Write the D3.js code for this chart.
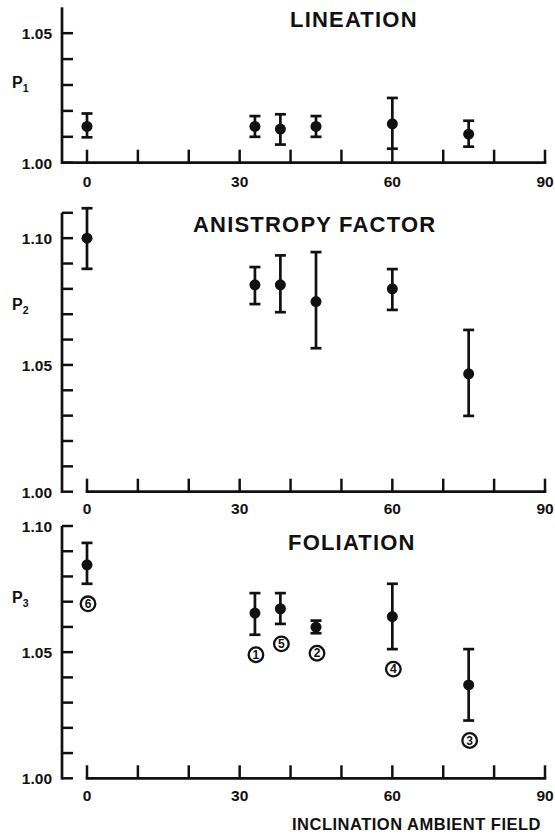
<!DOCTYPE html>
<html><head><meta charset="utf-8">
<script src="https://cdn.jsdelivr.net/npm/d3@7"></script>
<style>
html,body{margin:0;padding:0;background:#fff;}
svg text{font-family:"Liberation Sans",Arial,sans-serif;font-weight:bold;fill:#111;}
</style></head>
<body>
<svg id="c" width="555" height="834"></svg>
<script>
// ---- data ----
const inclination = [0, 33, 38, 45, 60, 75];
const xTickLabels = [0, 30, 60, 90];

const lineationVal = [1.014, 1.014, 1.013, 1.014, 1.015, 1.011];
const lineationHi  = [1.019, 1.018, 1.0187, 1.018, 1.025, 1.0162];
const lineationLo  = [1.0098, 1.010, 1.007, 1.010, 1.0054, 1.0062];

const anisoVal = [1.100, 1.0816, 1.0816, 1.075, 1.080, 1.0465];
const anisoHi  = [1.1118, 1.0886, 1.0932, 1.0945, 1.0878, 1.0638];
const anisoLo  = [1.0879, 1.0740, 1.0708, 1.0566, 1.0717, 1.0299];

const foliationVal = [1.0846, 1.0655, 1.0672, 1.0599, 1.0641, 1.0370];
const foliationHi  = [1.0933, 1.0734, 1.0734, 1.0625, 1.0771, 1.0512];
const foliationLo  = [1.0771, 1.0569, 1.0612, 1.0575, 1.0512, 1.0229];
const sampleIds    = ["6", "1", "5", "2", "4", "3"];

const yLabelsTop = ["1.00", "1.05"];
const yLabelsMid = ["1.00", "1.05", "1.10"];
const yLabelsBot = ["1.00", "1.05", "1.10"];

// ---- drawing ----
const svg = d3.select("#c");
const x = d3.scaleLinear().domain([0, 90]).range([87, 545]);
const AX = 62;
const ink = "#111";

const panels = [
  {title: "LINEATION", titleX: 290, titleY: 27, sub: "1", pY: 88,
   y: d3.scaleLinear().domain([1.00, 1.06]).range([162.7, 7.3]), tickMax: 1.05, axisTop: 1.06,
   labels: yLabelsTop, val: lineationVal, hi: lineationHi, lo: lineationLo, xFull: true, lblDy: 24},
  {title: "ANISTROPY FACTOR", titleX: 193, titleY: 232, sub: "2", pY: 310,
   y: d3.scaleLinear().domain([1.00, 1.11]).range([491.7, 212.8]), tickMax: 1.11, axisTop: 1.11,
   labels: yLabelsMid, val: anisoVal, hi: anisoHi, lo: anisoLo, xFull: false, lblDy: 22},
  {title: "FOLIATION", titleX: 288, titleY: 550, sub: "3", pY: 603,
   y: d3.scaleLinear().domain([1.00, 1.10]).range([778.3, 526]), tickMax: 1.10, axisTop: 1.10,
   labels: yLabelsBot, val: foliationVal, hi: foliationHi, lo: foliationLo, xFull: false, lblDy: 23, ids: sampleIds}
];

panels.forEach(p => {
  const g = svg.append("g");
  const y = p.y;
  g.append("line").attr("x1", AX).attr("x2", AX)
    .attr("y1", y(p.axisTop)).attr("y2", y(1.0) + 1.3)
    .attr("stroke", ink).attr("stroke-width", 2.7);
  const yt = d3.range(0, Math.round((p.tickMax - 1.0) / 0.01) + 1).map(i => 1.0 + i * 0.01);
  g.selectAll(".yt").data(yt).join("line")
    .attr("x1", AX).attr("x2", AX + 11)
    .attr("y1", d => y(d)).attr("y2", d => y(d))
    .attr("stroke", ink).attr("stroke-width", 2.5);
  g.selectAll(".yl").data(p.labels).join("text")
    .attr("x", 52).attr("y", d => y(+d) + 6)
    .attr("text-anchor", "end").attr("font-size", 15.5)
    .text(d => d);
  const pt = g.append("text").attr("x", 12).attr("y", p.pY).attr("font-size", 16);
  pt.append("tspan").text("P");
  pt.append("tspan").attr("dy", 4).attr("font-size", 10.5).text(p.sub);
  g.append("line")
    .attr("x1", p.xFull ? AX : x(0) - 1.3).attr("x2", x(90) + 1.3)
    .attr("y1", y(1.0)).attr("y2", y(1.0))
    .attr("stroke", ink).attr("stroke-width", 2.7);
  g.selectAll(".xt").data(d3.range(0, 91, 10)).join("line")
    .attr("x1", d => x(d)).attr("x2", d => x(d))
    .attr("y1", y(1.0)).attr("y2", y(1.0) - 13)
    .attr("stroke", ink).attr("stroke-width", 2.5);
  g.selectAll(".xl").data(xTickLabels).join("text")
    .attr("x", d => x(d)).attr("y", y(1.0) + p.lblDy)
    .attr("text-anchor", "middle").attr("font-size", 15.5)
    .text(d => d);
  g.append("text").attr("x", p.titleX).attr("y", p.titleY)
    .attr("font-size", 22).attr("letter-spacing", 1.2)
    .text(p.title);
  const pts = inclination.map((xi, i) => ({x: xi, v: p.val[i], hi: p.hi[i], lo: p.lo[i], id: p.ids ? p.ids[i] : null}));
  const eb = g.selectAll(".eb").data(pts).join("g");
  eb.append("line").attr("x1", d => x(d.x)).attr("x2", d => x(d.x))
    .attr("y1", d => y(d.hi)).attr("y2", d => y(d.lo))
    .attr("stroke", ink).attr("stroke-width", 2.7);
  eb.append("line").attr("x1", d => x(d.x) - 5.5).attr("x2", d => x(d.x) + 5.5)
    .attr("y1", d => y(d.hi)).attr("y2", d => y(d.hi))
    .attr("stroke", ink).attr("stroke-width", 2.7);
  eb.append("line").attr("x1", d => x(d.x) - 5.5).attr("x2", d => x(d.x) + 5.5)
    .attr("y1", d => y(d.lo)).attr("y2", d => y(d.lo))
    .attr("stroke", ink).attr("stroke-width", 2.7);
  eb.append("circle").attr("cx", d => x(d.x)).attr("cy", d => y(d.v)).attr("r", 5.5).attr("fill", ink);
  if (p.ids) {
    const lg = eb.append("g").attr("transform", d => `translate(${x(d.x) + 1},${y(d.lo) + 20})`);
    lg.append("circle").attr("r", 7.3).attr("fill", "none").attr("stroke", ink).attr("stroke-width", 2.3);
    lg.append("text").attr("y", 4.2).attr("text-anchor", "middle").attr("font-size", 12).text(d => d.id);
  }
});

svg.append("text").attr("x", 292).attr("y", 829.5)
  .attr("font-size", 16.5).attr("letter-spacing", 0.5)
  .text("INCLINATION AMBIENT FIELD");
</script>
</body></html>
